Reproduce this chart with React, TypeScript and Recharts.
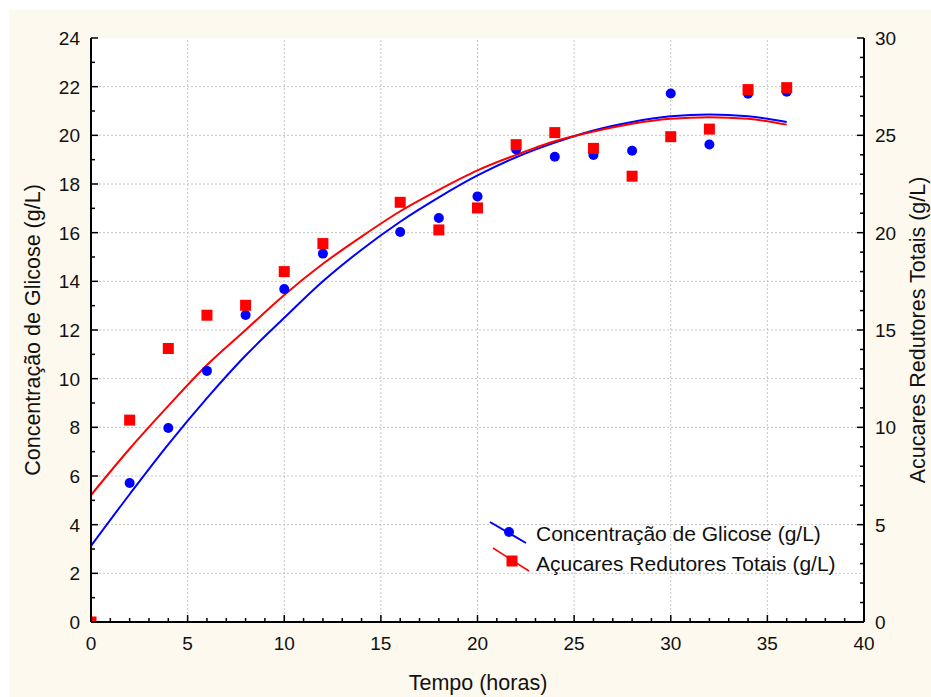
import React from "react";
import {
  ComposedChart, Line, Scatter, XAxis, YAxis, ReferenceLine, ReferenceArea,
} from "recharts";

// sample times (h) and measured values
const SAMPLE_T = [0, 2, 4, 6, 8, 10, 12, 16, 18, 20, 22, 24, 26, 28, 30, 32, 34, 36];
const GLICOSE = [0, 5.71, 7.97, 10.32, 12.62, 13.68, 15.14, 16.03, 16.6, 17.49, 19.42, 19.12, 19.19, 19.37, 21.72, 19.62, 21.71, 21.79];
const ART = [0, 10.37, 14.05, 15.76, 16.27, 18.0, 19.44, 21.56, 20.14, 21.27, 24.52, 25.14, 24.33, 22.9, 24.93, 25.32, 27.35, 27.45];

// fitted curves
const FIT_T = [0, 2, 4, 6, 8, 10, 12, 14, 16, 18, 20, 22, 24, 26, 28, 30, 32, 34, 36];
const FIT_GLICOSE = [3.13, 5.25, 7.3, 9.2, 10.95, 12.5, 14.0, 15.3, 16.45, 17.45, 18.35, 19.1, 19.7, 20.2, 20.55, 20.78, 20.86, 20.78, 20.55];
const FIT_ART = [6.52, 8.9, 11.1, 13.2, 15.0, 16.8, 18.4, 19.8, 21.1, 22.2, 23.2, 24.0, 24.7, 25.2, 25.6, 25.85, 25.93, 25.85, 25.55];

const X_TICKS = Array.from({ length: 41 }, (_, i) => i);
const LEFT_TICKS = Array.from({ length: 25 }, (_, i) => i);
const RIGHT_TICKS = Array.from({ length: 31 }, (_, i) => i);
const X_GRID = [5, 10, 15, 20, 25, 30, 35];
const Y_GRID = [2, 4, 6, 8, 10, 12, 14, 16, 18, 20, 22];

const glicosePts = SAMPLE_T.map((t, i) => ({ t, v: GLICOSE[i] }));
const artPts = SAMPLE_T.map((t, i) => ({ t, v: ART[i] }));
const glicoseFit = FIT_T.map((t, i) => ({ t, v: FIT_GLICOSE[i] }));
const artFit = FIT_T.map((t, i) => ({ t, v: FIT_ART[i] }));

const FONT = "'Liberation Sans', Arial, sans-serif";
const BLUE = "#0000ff";
const RED = "#ff0000";
const TXT = { fontSize: 19, fill: "#111", fontFamily: FONT } as const;
const TITLE = { fontFamily: FONT, fontSize: 21.5, color: "#111", lineHeight: 1, whiteSpace: "nowrap" } as const;
const X_MARGIN = 15;
const Y_MARGIN = 11;

const BottomTick = (p: any) => {
  const v = p.payload.value;
  const major = v % 5 === 0;
  const axisY = p.y - X_MARGIN;
  return (
    <g>
      <line x1={p.x} x2={p.x} y1={axisY} y2={axisY - (major ? 7 : 4)} stroke="#000" strokeWidth={1.5} />
      {major && <text x={p.x} y={p.y} dy="0.71em" textAnchor="middle" {...TXT}>{v}</text>}
    </g>
  );
};

const TopTick = (p: any) => {
  const v = p.payload.value;
  const major = v % 5 === 0;
  return <line x1={p.x} x2={p.x} y1={p.y} y2={p.y + (major ? 7 : 4)} stroke="#000" strokeWidth={1.5} />;
};

const LeftTick = (p: any) => {
  const v = p.payload.value;
  const major = v % 2 === 0;
  const axisX = p.x + Y_MARGIN;
  return (
    <g>
      <line x1={axisX} x2={axisX + (major ? 7 : 4)} y1={p.y} y2={p.y} stroke="#000" strokeWidth={1.5} />
      {major && <text x={p.x} y={p.y} dy="0.36em" textAnchor="end" {...TXT}>{v}</text>}
    </g>
  );
};

const RightTick = (p: any) => {
  const v = p.payload.value;
  const major = v % 5 === 0;
  const axisX = p.x - Y_MARGIN;
  return (
    <g>
      <line x1={axisX} x2={axisX - (major ? 7 : 4)} y1={p.y} y2={p.y} stroke="#000" strokeWidth={1.5} />
      {major && <text x={p.x} y={p.y} dy="0.36em" textAnchor="start" {...TXT}>{v}</text>}
    </g>
  );
};

const Dot = (p: any) => <circle cx={p.cx} cy={p.cy} r={5} fill={BLUE} />;
const Square = (p: any) => <rect x={p.cx - 5.5} y={p.cy - 5.5} width={11} height={11} fill={RED} />;

const LegendBox = () => (
  <div style={{ position: "absolute", left: 488, top: 519, fontFamily: FONT, fontSize: 21, color: "#111", lineHeight: "30px" }}>
    <div style={{ display: "flex", alignItems: "center", height: 30 }}>
      <svg width={48} height={30} style={{ overflow: "visible" }}>
        <line x1={2} y1={3} x2={38} y2={24} stroke={BLUE} strokeWidth={2} />
        <circle cx={21} cy={13} r={5} fill={BLUE} />
      </svg>
      <span>Concentração de Glicose (g/L)</span>
    </div>
    <div style={{ display: "flex", alignItems: "center", height: 30 }}>
      <svg width={48} height={30} style={{ overflow: "visible" }}>
        <line x1={5} y1={-1} x2={41} y2={22} stroke={RED} strokeWidth={1.5} />
        <rect x={18.5} y={6.5} width={11} height={11} fill={RED} />
      </svg>
      <span>Açucares Redutores Totais (g/L)</span>
    </div>
  </div>
);

export default function App() {
  return (
    <div style={{ position: "relative", width: 931, height: 697, background: "#fff", overflow: "hidden" }}>
      <style>{`body{margin:0}`}</style>
      <div style={{ position: "absolute", left: 9, top: 10, right: 0, bottom: 0, background: "#fdf9ee" }} />
      <div style={{ position: "absolute", left: 0, top: 0 }}>
        <ComposedChart width={931} height={697} margin={{ top: 38, right: 17, bottom: 45, left: 31 }}>
          <XAxis xAxisId="b" dataKey="t" type="number" domain={[0, 40]} ticks={X_TICKS} interval={0}
            allowDataOverflow height={30} tickSize={0} tickMargin={X_MARGIN} tick={<BottomTick />}
            axisLine={{ stroke: "#000", strokeWidth: 2 }} tickLine={false} />
          <XAxis xAxisId="top" orientation="top" dataKey="t" type="number" domain={[0, 40]} ticks={X_TICKS}
            interval={0} height={0} tickSize={0} tickMargin={0} tick={<TopTick />}
            axisLine={{ stroke: "#000", strokeWidth: 2 }} tickLine={false} />
          <YAxis yAxisId="l" dataKey="v" type="number" domain={[0, 24]} ticks={LEFT_TICKS} interval={0}
            allowDataOverflow width={60} tickSize={0} tickMargin={Y_MARGIN} tick={<LeftTick />}
            axisLine={{ stroke: "#000", strokeWidth: 2 }} tickLine={false} />
          <YAxis yAxisId="r" orientation="right" dataKey="v" type="number" domain={[0, 30]} ticks={RIGHT_TICKS}
            interval={0} allowDataOverflow width={50} tickSize={0} tickMargin={Y_MARGIN} tick={<RightTick />}
            axisLine={{ stroke: "#000", strokeWidth: 2 }} tickLine={false} />

          <ReferenceArea xAxisId="b" yAxisId="l" x1={0} x2={40} y1={0} y2={24} fill="#fff" fillOpacity={1} stroke="none" />
          {X_GRID.map((x) => (
            <ReferenceLine key={"x" + x} xAxisId="b" yAxisId="l" x={x} stroke="#c4c4c4" strokeDasharray="2 2" />
          ))}
          {Y_GRID.map((y) => (
            <ReferenceLine key={"y" + y} xAxisId="b" yAxisId="l" y={y} stroke="#c4c4c4" strokeDasharray="2 2" />
          ))}

          <Line xAxisId="b" yAxisId="l" data={glicoseFit} dataKey="v" type="monotone" stroke={BLUE}
            strokeWidth={2} dot={false} activeDot={false} isAnimationActive={false} />
          <Line xAxisId="b" yAxisId="r" data={artFit} dataKey="v" type="monotone" stroke={RED}
            strokeWidth={2} dot={false} activeDot={false} isAnimationActive={false} />
          <Scatter xAxisId="b" yAxisId="l" data={glicosePts} dataKey="v" shape={<Dot />} isAnimationActive={false} />
          <Scatter xAxisId="b" yAxisId="r" data={artPts} dataKey="v" shape={<Square />} isAnimationActive={false} />
        </ComposedChart>
      </div>
      <LegendBox />
      <div style={{ ...TITLE, position: "absolute", left: 0, top: 673, width: 956, textAlign: "center" }}>
        Tempo (horas)
      </div>
      <div style={{ ...TITLE, position: "absolute", left: 34, top: 330, transform: "translate(-50%,-50%) rotate(-90deg)" }}>
        Concentração de Glicose (g/L)
      </div>
      <div style={{ ...TITLE, position: "absolute", left: 919, top: 330, transform: "translate(-50%,-50%) rotate(-90deg)" }}>
        Acucares Redutores Totais (g/L)
      </div>
    </div>
  );
}
